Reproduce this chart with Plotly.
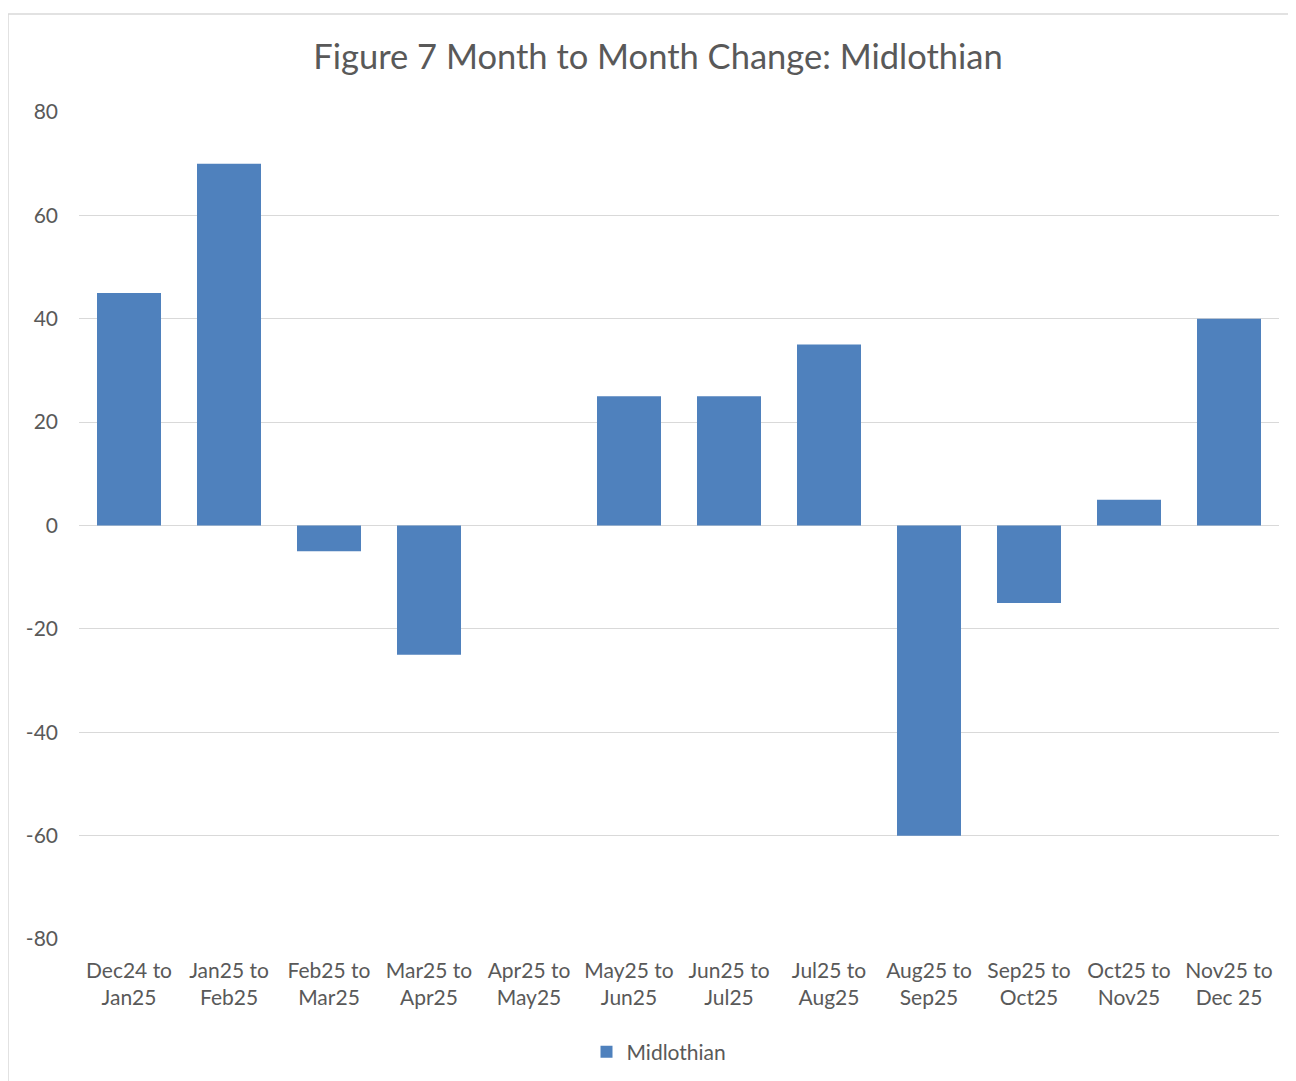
import plotly.graph_objects as go

categories = ["Dec24 to<br>Jan25", "Jan25 to<br>Feb25", "Feb25 to<br>Mar25", "Mar25 to<br>Apr25",
              "Apr25 to<br>May25", "May25 to<br>Jun25", "Jun25 to<br>Jul25", "Jul25 to<br>Aug25",
              "Aug25 to<br>Sep25", "Sep25 to<br>Oct25", "Oct25 to<br>Nov25", "Nov25 to<br>Dec 25"]
values = [45, 70, -5, -25, 0, 25, 25, 35, -60, -15, 5, 40]
series_name = "Midlothian"
y_ticks = [-80, -60, -40, -20, 0, 20, 40, 60, 80]
y_tick_labels = ["-80", "-60", "-40", "-20", "0", "20", "40", "60", "80"]

FONT = "Lato, Open Sans, sans-serif"
GREY = "#595959"

W, H = 1288, 1073
L, R, T, B = 71, 17, 104, 142
PW, PH = W - L - R, H - T - B

fig = go.Figure(go.Bar(x=categories, y=values, name=series_name, marker_color="#4F81BD",
                       marker_line_width=0, showlegend=True))

fig.update_layout(
    width=W, height=H,
    margin=dict(l=L, r=R, t=T, b=B, autoexpand=False),
    paper_bgcolor="white", plot_bgcolor="white",
    bargap=0.36,
    title=dict(text="Figure 7 Month to Month Change: Midlothian", x=650 / W, xanchor="center",
               y=1 - 49 / H, yanchor="middle", font=dict(family=FONT, size=34.5, color=GREY)),
    font=dict(family=FONT, size=21, color=GREY),
    xaxis=dict(showgrid=False, showline=False, ticks="", automargin=False, ticklabelstandoff=17,
               tickfont=dict(size=21, color=GREY)),
    yaxis=dict(range=[-80, 80], tickvals=y_ticks, ticktext=y_tick_labels, showgrid=True,
               gridcolor="#d9d9d9", gridwidth=1, automargin=False,
               zeroline=True, zerolinecolor="#d9d9d9", zerolinewidth=1, showline=False,
               ticklabelstandoff=20, tickfont=dict(size=21, color=GREY)),
    legend=dict(orientation="h", x=(651 - L) / PW, xanchor="center", y=-(1044 - T - PH) / PH,
                yanchor="middle", font=dict(size=21, color=GREY), itemwidth=30),
    shapes=[dict(type="rect", xref="paper", yref="paper", x0=(0 - L) / PW, x1=(W + 10 - L) / PW,
                 y0=-(H + 10 - T - PH) / PH, y1=(T + PH - 6) / PH, line=dict(color="#d9d9d9", width=1.5),
                 fillcolor="rgba(0,0,0,0)", layer="below")],
)

fig.write_html("out.html")
